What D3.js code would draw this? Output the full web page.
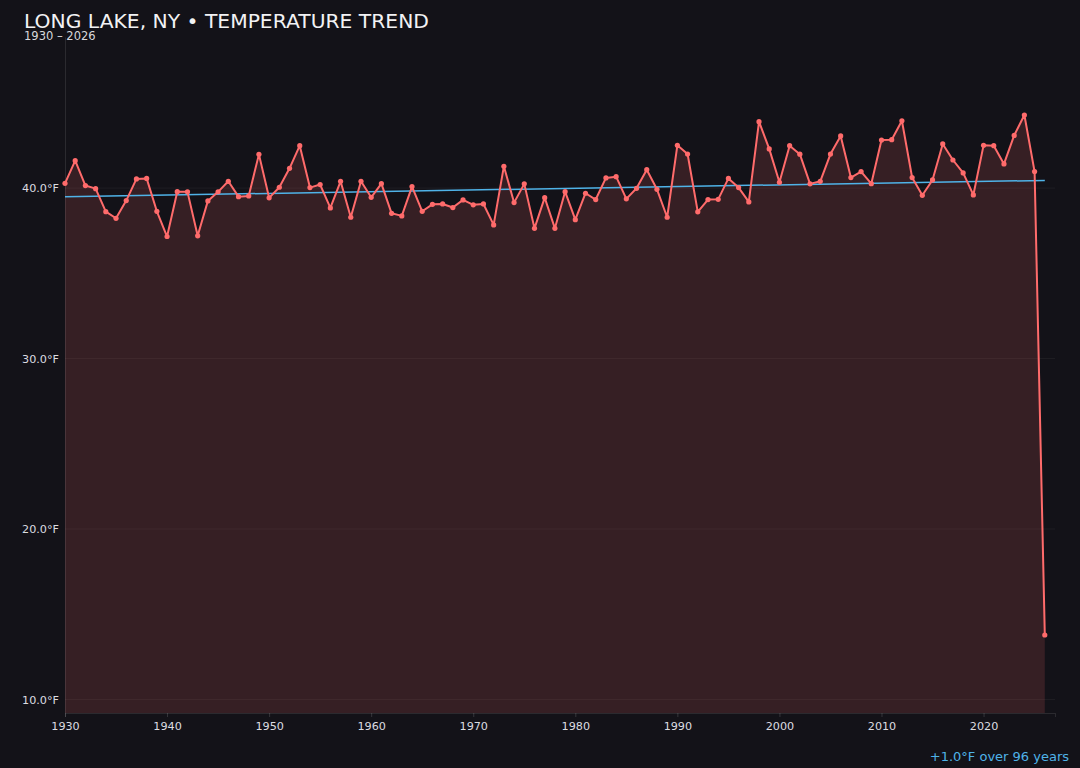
<!DOCTYPE html>
<html>
<head>
<meta charset="utf-8">
<script src="https://cdn.jsdelivr.net/npm/d3@7"></script>
<style>
  html, body { margin: 0; padding: 0; background: #131218; }
  svg { display: block; font-family: "DejaVu Sans", sans-serif; }
</style>
</head>
<body>
<svg id="chart" width="1080" height="768"></svg>
<script>
// ---- data ----
const years = d3.range(1930, 2027);
const temps = [
  40.28, 41.61, 40.15, 39.97, 38.62, 38.23, 39.27, 40.54, 40.57, 38.64,
  37.16, 39.79, 39.78, 37.20, 39.25, 39.78, 40.40, 39.50, 39.54, 41.98,
  39.43, 40.05, 41.16, 42.49, 40.03, 40.21, 38.84, 40.40, 38.29, 40.40,
  39.46, 40.26, 38.52, 38.37, 40.09, 38.64, 39.05, 39.07, 38.86, 39.31,
  39.02, 39.07, 37.84, 41.28, 39.15, 40.25, 37.64, 39.44, 37.64, 39.79,
  38.15, 39.70, 39.33, 40.60, 40.67, 39.37, 39.99, 41.08, 39.93, 38.29,
  42.51, 42.00, 38.61, 39.33, 39.34, 40.57, 40.03, 39.19, 43.90, 42.30,
  40.34, 42.49, 41.99, 40.25, 40.40, 42.00, 43.06, 40.62, 40.97, 40.26,
  42.82, 42.84, 43.95, 40.62, 39.58, 40.48, 42.59, 41.65, 40.89, 39.60,
  42.51, 42.49, 41.42, 43.09, 44.29, 40.97,
  13.78
];
const yTickValues = [10, 20, 30, 40];
const xTickValues = [1930, 1940, 1950, 1960, 1970, 1980, 1990, 2000, 2010, 2020];
const titleText = "LONG LAKE, NY • TEMPERATURE TREND";

const data = years.map((y, i) => ({ year: y, temp: temps[i] }));

// ---- layout ----
const W = 1080, H = 768;
const m = { left: 65, right: 25, top: 37, bottom: 55 };
const svg = d3.select("#chart");

const x = d3.scaleLinear()
  .domain([years[0], years[years.length - 1] + 1])
  .range([m.left, W - m.right]);

const tMin = d3.min(temps), tMax = d3.max(temps);
const pad = (tMax - tMin) * 0.15;
const y = d3.scaleLinear()
  .domain([tMin - pad, tMax + pad])
  .range([H - m.bottom, m.top]);

const lineColor = "#ff6b6b";
const trendColor = "#4fb3e8";

// grid
svg.append("g")
  .selectAll("line")
  .data(yTickValues)
  .join("line")
  .attr("x1", m.left).attr("x2", W - m.right)
  .attr("y1", d => y(d)).attr("y2", d => y(d))
  .attr("stroke", "rgba(255,255,255,0.05)")
  .attr("stroke-width", 1);

// area
const area = d3.area()
  .x(d => x(d.year))
  .y0(y.range()[0])
  .y1(d => y(d.temp));
svg.append("path")
  .datum(data)
  .attr("d", area)
  .attr("fill", lineColor)
  .attr("fill-opacity", 0.15);

// axes
const xAxis = d3.axisBottom(x).tickValues(xTickValues).tickFormat(d3.format("d")).tickSize(4).tickPadding(5);
const gx = svg.append("g")
  .attr("transform", `translate(0,${H - m.bottom})`)
  .call(xAxis);
gx.select(".domain").attr("stroke", "rgba(255,255,255,0.1)");
gx.selectAll(".tick line").attr("stroke", "rgba(255,255,255,0.15)");
gx.selectAll(".tick text").attr("fill", "#dcdce0").attr("font-size", 11.2).attr("font-family", "DejaVu Sans");

const yAxis = d3.axisLeft(y).tickValues(yTickValues).tickFormat(d => d3.format(".1f")(d) + "°F").tickSize(0).tickPadding(6);
const gy = svg.append("g")
  .attr("transform", `translate(${m.left},0)`)
  .call(yAxis);
gy.select(".domain").attr("stroke", "rgba(255,255,255,0.1)");
gy.selectAll(".tick text").attr("fill", "#dcdce0").attr("font-size", 11.2).attr("font-family", "DejaVu Sans");

// trend (least squares)
const n = years.length;
const mx = d3.mean(years), my = d3.mean(temps);
let sxy = 0, sxx = 0;
for (let i = 0; i < n; i++) {
  sxy += (years[i] - mx) * (temps[i] - my);
  sxx += (years[i] - mx) * (years[i] - mx);
}
const slope = sxy / sxx;
const intercept = my - slope * mx;
const y0 = years[0], y1 = years[n - 1];
svg.append("line")
  .attr("x1", x(y0)).attr("y1", y(intercept + slope * y0))
  .attr("x2", x(y1)).attr("y2", y(intercept + slope * y1))
  .attr("stroke", trendColor)
  .attr("stroke-width", 1.5);

// line
const line = d3.line().x(d => x(d.year)).y(d => y(d.temp));
svg.append("path")
  .datum(data)
  .attr("d", line)
  .attr("fill", "none")
  .attr("stroke", lineColor)
  .attr("stroke-width", 2)
  .attr("stroke-linejoin", "round");

svg.append("g")
  .selectAll("circle")
  .data(data)
  .join("circle")
  .attr("cx", d => x(d.year))
  .attr("cy", d => y(d.temp))
  .attr("r", 2.6)
  .attr("fill", lineColor);

// titles
svg.append("text")
  .attr("x", 24).attr("y", 27.5)
  .attr("fill", "#f2f2f4")
  .attr("font-size", 20.3)
  .text(titleText);
svg.append("text")
  .attr("x", 24).attr("y", 39.5)
  .attr("fill", "#d8d8dc")
  .attr("font-size", 11.5)
  .text(`${years[0]} – ${years[n - 1]}`);

const change = slope * (y1 - y0);
svg.append("text")
  .attr("x", 1069).attr("y", 761)
  .attr("text-anchor", "end")
  .attr("fill", trendColor)
  .attr("font-size", 13)
  .text(`${change >= 0 ? "+" : ""}${change.toFixed(1)}°F over ${y1 - y0} years`);
</script>
</body>
</html>
